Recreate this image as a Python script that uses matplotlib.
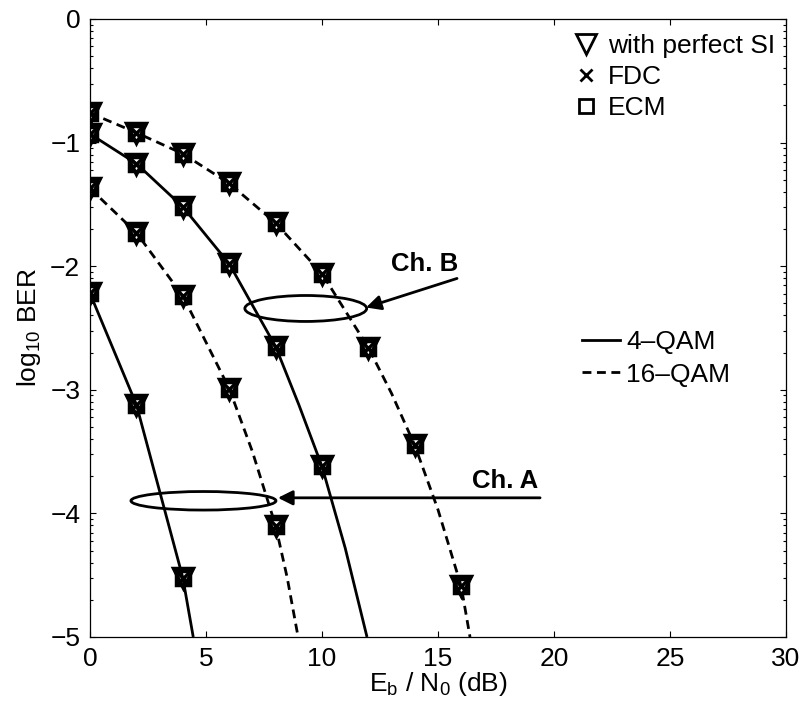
import numpy as np
import matplotlib
matplotlib.use("Agg")
import matplotlib.pyplot as plt
from matplotlib.lines import Line2D
from matplotlib.patches import Ellipse
from matplotlib.ticker import FixedLocator

plt.rcParams['font.family'] = ['Liberation Sans', 'DejaVu Sans']
plt.rcParams['mathtext.fontset'] = 'custom'
plt.rcParams['mathtext.rm'] = 'Liberation Sans'
plt.rcParams['mathtext.it'] = 'Liberation Sans:italic'
plt.rcParams['axes.unicode_minus'] = True

# ---------------- data (log10 BER) ----------------
# Channel A, 4-QAM
a4_x = [0, 2, 4]
a4_y = [-2.22, -3.12, -4.52]
a4_line_x = [0, 2, 4, 4.45]
a4_line_y = [-2.22, -3.12, -4.52, -5.0]
# Channel A, 16-QAM
a16_x = [0, 2, 4, 6, 8]
a16_y = [-1.37, -1.73, -2.24, -2.99, -4.10]
a16_line_x = [0, 2, 4, 6, 7, 8, 8.5, 8.97]
a16_line_y = [-1.37, -1.73, -2.24, -2.99, -3.50, -4.10, -4.52, -5.0]
# Channel B, 4-QAM
b4_x = [0, 2, 4, 6, 8, 10]
b4_y = [-0.93, -1.17, -1.52, -1.98, -2.65, -3.62]
b4_line_x = [0, 2, 4, 6, 8, 9, 10, 11, 11.94]
b4_line_y = [-0.93, -1.17, -1.52, -1.98, -2.65, -3.12, -3.62, -4.28, -5.0]
# Channel B, 16-QAM
b16_x = [0, 2, 4, 6, 8, 10, 12, 14, 16]
b16_y = [-0.76, -0.92, -1.09, -1.33, -1.65, -2.06, -2.66, -3.45, -4.59]
b16_line_x = [0, 2, 4, 6, 8, 10, 12, 13, 14, 15, 16, 16.38]
b16_line_y = [-0.76, -0.92, -1.09, -1.33, -1.65, -2.06, -2.66, -3.03, -3.45, -3.97, -4.59, -5.0]

x_ticks = [0, 5, 10, 15, 20, 25, 30]
y_ticks = [-5, -4, -3, -2, -1, 0]

FS = 19

# ---------------- figure ----------------
fig = plt.figure(figsize=(8.02, 7.11), dpi=100)
ax = fig.add_axes([90/802, 1-637/711, 696/802, 618/711])

LW = 2.0
dash = (0, (3.2, 2.0))
ax.plot(a4_line_x, a4_line_y, color='k', lw=LW, solid_capstyle='butt')
ax.plot(b4_line_x, b4_line_y, color='k', lw=LW, solid_capstyle='butt')
ax.plot(a16_line_x, a16_line_y, color='k', lw=LW, linestyle=dash)
ax.plot(b16_line_x, b16_line_y, color='k', lw=LW, linestyle=dash)

for xs, ys in [(a4_x, a4_y), (a16_x, a16_y), (b4_x, b4_y), (b16_x, b16_y)]:
    ax.plot(xs, ys, linestyle='none', marker='v', ms=15, mew=2.5, mfc='none', mec='k')
    ax.plot(xs, ys, linestyle='none', marker='x', ms=8, mew=2.5, mec='k')
    ax.plot(xs, ys, linestyle='none', marker='s', ms=10, mew=2.5, mfc='none', mec='k')

ax.set_xlim(0, 30)
ax.set_ylim(-5, 0)
ax.set_xticks(x_ticks)
ax.set_yticks(y_ticks)
minor = [d + np.log10(k) for d in range(-5, 0) for k in range(2, 10)]
ax.yaxis.set_minor_locator(FixedLocator(minor))

ax.tick_params(which='both', direction='in', top=True, right=True, labelsize=FS, width=0.8)
ax.tick_params(which='major', length=4.5)
ax.tick_params(which='minor', length=2.5)
ax.tick_params(axis='x', pad=7)
ax.tick_params(axis='y', pad=7)
for s in ax.spines.values():
    s.set_linewidth(0.9)

ax.set_xlabel(r'E$\mathregular{_b}$ / N$\mathregular{_0}$ (dB)', fontsize=FS)
ax.set_ylabel(r'log$\mathregular{_{10}}$ BER', fontsize=FS)
ax.xaxis.set_label_coords(0.5, -0.054)
ax.yaxis.set_label_coords(-0.068, 0.5)

# Ellipses and annotations
ax.add_patch(Ellipse((9.3, -2.342), 5.25, 0.21, fill=False, lw=LW, ec='k'))
ax.add_patch(Ellipse((4.89, -3.898), 6.25, 0.15, fill=False, lw=LW, ec='k'))
ax.annotate('', xy=(11.9, -2.334), xytext=(15.82, -2.099),
            arrowprops=dict(arrowstyle='-|>', lw=LW, color='k', mutation_scale=22,
                            shrinkA=0, shrinkB=0))
ax.annotate('', xy=(8.1, -3.874), xytext=(19.4, -3.874),
            arrowprops=dict(arrowstyle='-|>', lw=LW, color='k', mutation_scale=22,
                            shrinkA=0, shrinkB=0))
ax.text(14.44, -1.985, 'Ch. B', fontsize=18.5, fontweight='bold', ha='center', va='center')
ax.text(17.9, -3.74, 'Ch. A', fontsize=18.5, fontweight='bold', ha='center', va='center')

# Legends
h1 = [Line2D([], [], linestyle='none', marker='v', ms=14, mew=2, mfc='none', mec='k'),
      Line2D([], [], linestyle='none', marker='x', ms=8, mew=2, mec='k'),
      Line2D([], [], linestyle='none', marker='s', ms=10, mew=2, mfc='none', mec='k')]
leg1 = ax.legend(h1, ['with perfect SI', 'FDC', 'ECM'], loc='upper left',
                 bbox_to_anchor=(0.697, 0.9757), frameon=False, fontsize=FS,
                 handlelength=0.8, handletextpad=0.435, labelspacing=0.26,
                 borderpad=0, borderaxespad=0)
ax.add_artist(leg1)
h2 = [Line2D([], [], color='k', lw=LW),
      Line2D([], [], color='k', lw=LW, linestyle=dash)]
ax.legend(h2, ['4–QAM', '16–QAM'], loc='upper left',
          bbox_to_anchor=(0.707, 0.497), frameon=False, fontsize=FS,
          handlelength=1.44, handletextpad=0.23, labelspacing=0.33,
          borderpad=0, borderaxespad=0)

fig.savefig('out.png', dpi=100)
